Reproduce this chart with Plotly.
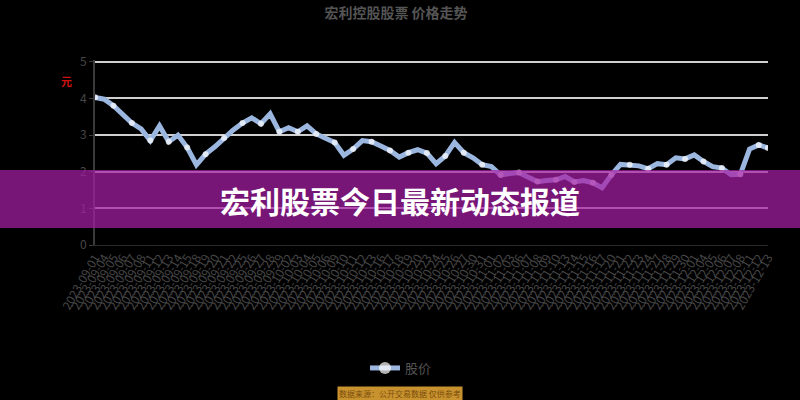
import plotly.graph_objects as go
import pandas as pd

dates = list(pd.bdate_range("2023-09-01", periods=74).strftime("%Y-%m-%d"))
prices = [4.03, 3.98, 3.80, 3.55, 3.33, 3.17, 2.85, 3.25, 2.82, 3.00,
          2.66, 2.19, 2.48, 2.68, 2.92, 3.14, 3.33, 3.47, 3.31, 3.58,
          3.09, 3.20, 3.09, 3.25, 3.03, 2.92, 2.80, 2.45, 2.62, 2.85,
          2.82, 2.70, 2.58, 2.40, 2.52, 2.60, 2.51, 2.22, 2.43, 2.80,
          2.52, 2.38, 2.19, 2.14, 1.91, 1.95, 1.98, 1.85, 1.73, 1.76,
          1.78, 1.87, 1.72, 1.76, 1.70, 1.56, 1.91, 2.20, 2.19, 2.16,
          2.08, 2.22, 2.19, 2.38, 2.35, 2.46, 2.28, 2.14, 2.10, 1.92,
          1.93, 2.62, 2.73, 2.65]
y_ticks = [0, 1, 2, 3, 4, 5]
series_name = "股价"
chart_title = "宏利控股股票 价格走势"
banner_text = "宏利股票今日最新动态报道"

n = len(prices)
msizes = [6 if (i % 2 == 0 or i == n - 1) else 0 for i in range(n)]

W, H = 800, 400
L, R, T, B = 95, 32, 60, 155
pw, ph = W - L - R, H - T - B

fig = go.Figure()
fig.add_trace(go.Scatter(
    x=dates, y=prices, mode="lines+markers", name=series_name,
    line=dict(color="#9bb7e0", width=5),
    marker=dict(size=msizes, color="#ffffff", line=dict(color="#9bb7e0", width=0)),
))

font_family = "Noto Sans CJK SC, Noto Sans, sans-serif"
fig.update_layout(
    width=W, height=H,
    margin=dict(l=L, r=R, t=T, b=B),
    paper_bgcolor="#000000", plot_bgcolor="#000000",
    font=dict(family=font_family, color="#555555"),
    showlegend=True,
    legend=dict(orientation="h", x=(401 - L) / pw, xanchor="center",
                y=(H - B - 368) / ph, yanchor="middle",
                font=dict(size=13, color="#555555"), itemsizing="constant",
                bgcolor="rgba(0,0,0,0)"),
    title=dict(text="<b>" + chart_title + "</b>", x=396 / W, xanchor="center",
               y=1 - 13 / H, yanchor="middle",
               font=dict(size=14, color="#555555")),
    xaxis=dict(type="category", range=[0, n - 1], tickmode="array",
               tickvals=dates, ticktext=dates, tickangle=-60,
               tickfont=dict(size=12, color="#474747"),
               showgrid=False, showline=True, linecolor="#2a2a2a",
               ticks="", zeroline=False),
    yaxis=dict(range=[0, 5.05], tickvals=y_ticks, showgrid=True,
               gridcolor="#cfcfcf", gridwidth=2, zeroline=True,
               zerolinecolor="#111111", zerolinewidth=1,
               showline=True, linecolor="#3a3a3a", linewidth=2,
               ticks="outside", ticklen=4, tickcolor="#3a3a3a",
               tickfont=dict(size=12, color="#474747")),
)

# purple banner across the chart
fig.add_shape(type="rect", xref="paper", yref="paper",
              x0=-L / pw, x1=1 + R / pw,
              y0=(H - B - 228) / ph, y1=(H - B - 170) / ph,
              fillcolor="rgba(165,30,165,0.72)", line=dict(width=0), layer="above")
fig.add_annotation(xref="paper", yref="paper", x=(400 - L) / pw,
                   y=(H - B - 200) / ph, text="<b>" + banner_text + "</b>",
                   showarrow=False, xanchor="center", yanchor="middle",
                   font=dict(size=30, color="#ffffff", family=font_family))
# small red unit mark
fig.add_annotation(xref="paper", yref="paper", x=(66 - L) / pw,
                   y=(H - B - 81) / ph, text="<b>元</b>", showarrow=False,
                   xanchor="center", yanchor="middle",
                   font=dict(size=11, color="#cc1111", family=font_family))
# orange source label
fig.add_annotation(xref="paper", yref="paper", x=(400 - L) / pw,
                   y=(H - B - 393) / ph, text="数据来源：公开交易数据 仅供参考",
                   showarrow=False, xanchor="center", yanchor="middle",
                   bgcolor="#c8922e", borderpad=1,
                   font=dict(size=8, color="#7a4e0c", family=font_family))

fig.write_html("out.html", config={"displayModeBar": False},
               post_script="document.body.style.margin='0';document.body.style.background='#000';")
